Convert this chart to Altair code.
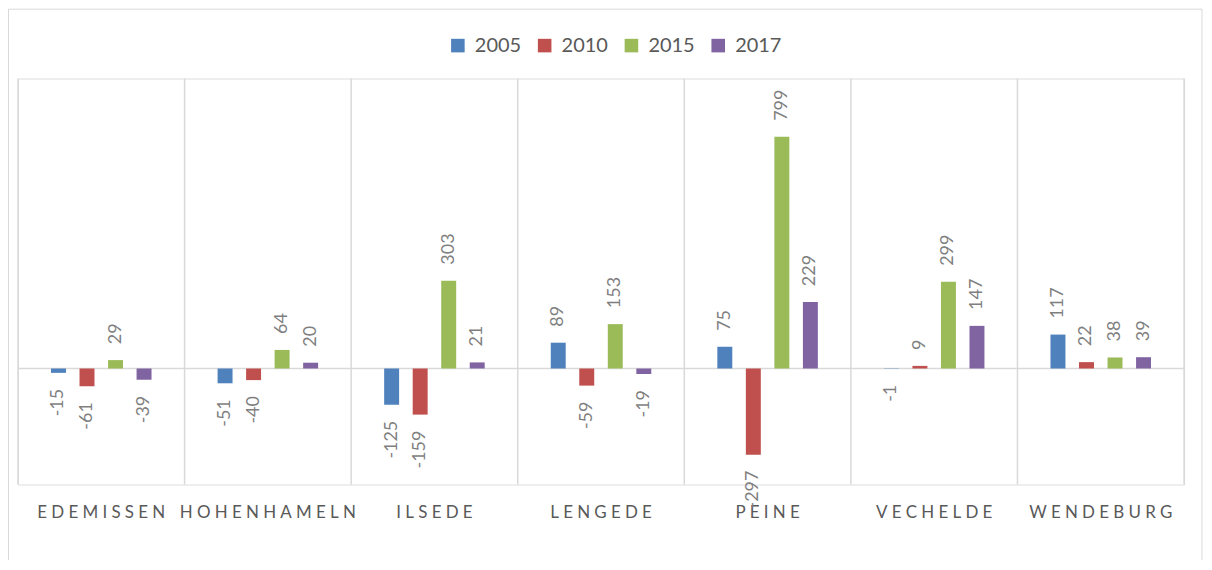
import altair as alt
import pandas as pd

categories = ["EDEMISSEN", "HOHENHAMELN", "ILSEDE", "LENGEDE", "PEINE", "VECHELDE", "WENDEBURG"]
years = ["2005", "2010", "2015", "2017"]
v2005 = [-15, -51, -125, 89, 75, -1, 117]
v2010 = [-61, -40, -159, -59, -297, 9, 22]
v2015 = [29, 64, 303, 153, 799, 299, 38]
v2017 = [-39, 20, 21, -19, 229, 147, 39]
colors = ["#4f81bd", "#c0504d", "#9bbb59", "#8064a2"]

series = dict(zip(years, [v2005, v2010, v2015, v2017]))
rows = []
for y in years:
    for c, v in zip(categories, series[y]):
        rows.append({"cat": c, "year": y, "value": v, "label": str(v)})
df = pd.DataFrame(rows)
cat_df = pd.DataFrame({"cat": categories})

W, H = 1169, 407
FONT = "Lato"

xscale = alt.Scale(domain=categories, paddingInner=0, paddingOuter=0)
xaxis = alt.Axis(
    title=None, domain=False, ticks=False, grid=False, labelAngle=0,
    labelFont=FONT, labelFontSize=17, labelColor="#595959", labelPadding=20,
    labelLimit=0, labelOverlap=False,
    labelExpr="join(split(datum.label, ''), '\u2005')",
)
yscale = alt.Scale(domain=[-400, 1000], nice=False)


def X(band=None):
    if band is None:
        return alt.X("cat:N", sort=categories, scale=xscale, axis=xaxis)
    return alt.X("cat:N", sort=categories, scale=xscale, axis=xaxis, bandPosition=band)


xoff = alt.XOffset("year:N", sort=years, scale=alt.Scale(domain=years, paddingInner=0, paddingOuter=0.92))
Y = alt.Y("value:Q", scale=yscale, axis=None)

border = alt.Chart(pd.DataFrame({"a": [0]})).mark_rect(
    fillOpacity=0, stroke="#d9d9d9", strokeWidth=1
).encode(x=alt.value(-9.5), x2=alt.value(1187), y=alt.value(-69.5), y2=alt.value(600))

grid = alt.Chart(cat_df).mark_rule(color="#d9d9d9", strokeWidth=1.5).encode(x=X(0))
grid_end = alt.Chart(cat_df).transform_filter(
    alt.datum.cat == categories[-1]
).mark_rule(color="#d9d9d9", strokeWidth=1.5).encode(x=X(1))

zero = alt.Chart(pd.DataFrame({"z": [0]})).mark_rule(color="#d9d9d9", strokeWidth=1.5).encode(
    y=alt.Y("z:Q", scale=yscale, axis=None)
)

bars = alt.Chart(df).mark_bar(width=15).encode(
    x=X(), xOffset=xoff, y=Y,
    color=alt.Color(
        "year:N", sort=years,
        scale=alt.Scale(domain=years, range=colors),
        legend=alt.Legend(
            title=None, orient="none", direction="horizontal",
            legendX=431, legendY=-43, padding=0,
            symbolType="square", symbolSize=185, symbolStrokeWidth=0,
            labelFont=FONT, labelFontSize=20, labelColor="#595959",
            labelOffset=7, columnPadding=13,
        ),
    ),
)

pos_labels = alt.Chart(df).transform_filter(alt.datum.value >= 0).mark_text(
    angle=270, align="left", baseline="middle", dx=16,
    font=FONT, fontSize=18, color="#7f7f7f",
).encode(x=X(), xOffset=xoff, y=Y, text="label:N")

neg_labels = alt.Chart(df).transform_filter(alt.datum.value < 0).mark_text(
    angle=270, align="right", baseline="middle", dx=-16,
    font=FONT, fontSize=18, color="#7f7f7f",
).encode(x=X(), xOffset=xoff, y=Y, text="label:N")

chart = alt.layer(border, grid, grid_end, zero, bars, pos_labels, neg_labels).properties(
    width=W, height=H,
    autosize=alt.AutoSizeParams(type="none"),
    padding={"left": 10, "top": 70, "right": 20, "bottom": 75},
).configure_view(stroke=None).configure(background="white")

chart.save("out.html", embed_options={"renderer": "svg", "actions": False})
